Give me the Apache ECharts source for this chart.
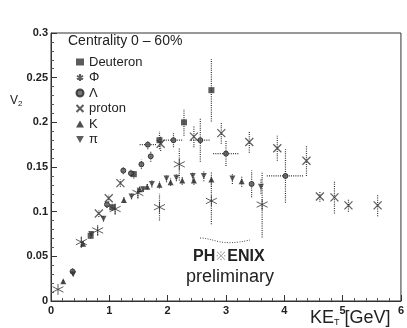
<!DOCTYPE html>
<html><head><meta charset="utf-8">
<script src="https://cdn.jsdelivr.net/npm/echarts@6/dist/echarts.min.js"></script>
<style>html,body{margin:0;padding:0;background:#fff}#c{width:407px;height:328px}</style>
</head><body><div id="c"></div>
<script>
// [KE_T, v2, yErr, xErr]
const deuteron = [[0.68,0.073,0.003,0],[1.05,0.105,0.004,0],[1.42,0.142,0.005,0],[1.86,0.180,0.010,0],[2.28,0.200,0.015,0],[2.75,0.236,0.035,0]];
const phi = [[0.12,0.013,0,0],[0.52,0.066,0.006,0],[0.80,0.079,0.005,0],[1.10,0.103,0.006,0],[1.49,0.121,0.006,0],[1.86,0.105,0.015,0],[2.20,0.153,0.018,0],[2.75,0.112,0.026,0],[3.62,0.108,0.037,0]];
const lambda = [[0.37,0.033,0.004,0],[0.96,0.108,0.004,0],[1.24,0.146,0.004,0],[1.37,0.143,0.004,0],[1.55,0.153,0.005,0],[1.66,0.175,0.005,0.14],[1.71,0.162,0.006,0],[2.10,0.180,0.008,0.17],[2.56,0.180,0.024,0.16],[3.00,0.165,0.014,0.22],[3.44,0.131,0.015,0],[4.02,0.140,0.030,0.32]];
const proton = [[0.82,0.098,0.004,0],[0.99,0.115,0.004,0],[1.19,0.132,0.004,0],[1.88,0.176,0.008,0],[2.45,0.184,0.012,0],[2.92,0.188,0.012,0],[3.40,0.178,0.012,0],[3.88,0.171,0.014,0],[4.38,0.157,0.017,0],[4.61,0.117,0.006,0],[4.86,0.116,0.018,0],[5.10,0.107,0.007,0],[5.60,0.107,0.012,0]];
const kaon = [[0.21,0.022,0.002,0],[0.55,0.064,0.003,0],[1.25,0.113,0.003,0],[1.52,0.125,0.003,0],[1.65,0.128,0.003,0],[1.86,0.130,0.004,0],[2.05,0.133,0.004,0],[2.25,0.135,0.005,0],[2.45,0.135,0.005,0],[2.75,0.136,0.008,0],[3.27,0.134,0.006,0]];
const pion = [[0.38,0.030,0.002,0],[0.69,0.075,0.002,0],[0.90,0.092,0.003,0],[1.38,0.117,0.003,0],[1.58,0.125,0.003,0],[1.73,0.131,0.004,0],[1.98,0.137,0.004,0],[2.15,0.138,0.004,0],[2.43,0.140,0.005,0],[2.62,0.140,0.006,0],[3.11,0.137,0.006,0],[3.60,0.128,0.008,0]];
const yTicks = ['0','0.05','0.1','0.15','0.2','0.25','0.3'];

const ink = '#222';
const font = 'Liberation Sans, Arial, sans-serif';
const asterisk = 'path://M0,-10L0,10M-8.7,-5L8.7,5M-8.7,5L8.7,-5';
const cross = 'path://M-6,-6L6,6M-6,6L6,-6';
const triDown = 'path://M-5,-4L5,-4L0,5Z';

function errRender(params, api){
  const x=api.value(0), y=api.value(1), ye=api.value(2), xe=api.value(3);
  const ch=[]; const st={stroke:'#333',lineWidth:1.2,lineDash:[1,1.2]};
  if(ye>0){const a=api.coord([x,y-ye]),b=api.coord([x,y+ye]);ch.push({type:'line',shape:{x1:a[0],y1:a[1],x2:b[0],y2:b[1]},style:st});}
  if(xe>0){const a=api.coord([x-xe,y]),b=api.coord([x+xe,y]);ch.push({type:'line',shape:{x1:a[0],y1:a[1],x2:b[0],y2:b[1]},style:st});}
  return {type:'group',children:ch};
}
function errSeries(d,id){return {type:'custom',name:'err'+id,renderItem:errRender,data:d,encode:{x:0,y:1},z:1,silent:true};}
function pts(d){return d.map(p=>[p[0],p[1]]);}

const chart = echarts.init(document.getElementById('c'),null,{renderer:'canvas'});
chart.setOption({
  animation:false,
  backgroundColor:'#fff',
  textStyle:{fontFamily:font},
  grid:{left:51,right:0,top:33,bottom:27,show:true,borderColor:'#333',borderWidth:1},
  legend:{orient:'vertical',left:69,top:50,itemWidth:8,itemHeight:7,itemGap:1.5,
    textStyle:{fontSize:13,lineHeight:14,color:ink,fontFamily:font},
    data:['Deuteron','Φ','Λ','proton','K','π']},
  xAxis:{type:'value',min:0,max:6,interval:1,
    axisLine:{onZero:false,lineStyle:{color:'#333'}},
    axisTick:{inside:true,length:6,lineStyle:{color:'#333'}},
    minorTick:{show:true,splitNumber:5,length:3,lineStyle:{color:'#555'}},
    splitLine:{show:false},
    axisLabel:{fontSize:11,fontWeight:'bold',color:ink,margin:4,showMaxLabel:true}},
  yAxis:{type:'value',min:0,max:0.3,interval:0.05,
    axisLine:{show:true,lineStyle:{color:'#333'}},
    axisTick:{show:true,inside:true,length:6,lineStyle:{color:'#333'}},
    minorTick:{show:true,splitNumber:5,length:3,lineStyle:{color:'#555'}},
    splitLine:{show:false},
    axisLabel:{fontSize:11,fontWeight:'bold',color:ink,margin:3,formatter:(v,i)=>yTicks[i]}},
  graphic:[
    {type:'text',left:68,top:34,style:{text:'Centrality 0 – 60%',fontSize:14,fill:ink,fontFamily:font}},
    {type:'text',left:10,top:95,style:{text:'{a|V}{b|2}',fill:ink,rich:{a:{fontSize:12,fontFamily:font},b:{fontSize:8,padding:[6,0,0,0]}}}},
    {type:'text',left:310,top:309,style:{text:'{a|KE}{b|T}{a| [GeV]}',fill:ink,rich:{a:{fontSize:18,fontFamily:font},b:{fontSize:9,padding:[10,0,0,0]}}}},
    {type:'text',left:193,top:249,style:{text:'{a|PH}{b|※}{a|ENIX}',rich:{a:{fontSize:16,fontWeight:'bold',fill:ink,fontFamily:font},b:{fontSize:12,fill:'#999',padding:[0,1,0,1]}}}},
    {type:'text',left:186,top:268,style:{text:'preliminary',fontSize:18,fill:ink,fontFamily:font}},
    {type:'bezierCurve',shape:{x1:200,y1:238,cpx1:214,cpy1:238,cpx2:220,cpy2:247,x2:250,y2:240},style:{stroke:'#444',lineWidth:1,lineDash:[1,1.5],fill:'none'}}
  ],
  series:[
    errSeries(deuteron,1),errSeries(phi,2),errSeries(lambda,3),errSeries(proton,4),errSeries(kaon,5),errSeries(pion,6),
    {type:'scatter',name:'Deuteron',data:pts(deuteron),symbol:'rect',symbolSize:6,itemStyle:{color:'#333'},z:3},
    {type:'scatter',name:'Φ',data:pts(phi),symbol:asterisk,symbolSize:11,itemStyle:{color:'none',borderColor:'#333',borderWidth:1},z:3},
    {type:'scatter',name:'Λ',data:pts(lambda),symbol:'circle',symbolSize:5,itemStyle:{color:'#555',borderColor:'#222',borderWidth:1},z:3},
    {type:'scatter',name:'proton',data:pts(proton),symbol:cross,symbolSize:8,itemStyle:{color:'none',borderColor:'#333',borderWidth:1.2},z:3},
    {type:'scatter',name:'K',data:pts(kaon),symbol:'triangle',symbolSize:6,itemStyle:{color:'#222'},z:3},
    {type:'scatter',name:'π',data:pts(pion),symbol:triDown,symbolSize:6,itemStyle:{color:'#333'},z:3}
  ]
});
</script></body></html>
